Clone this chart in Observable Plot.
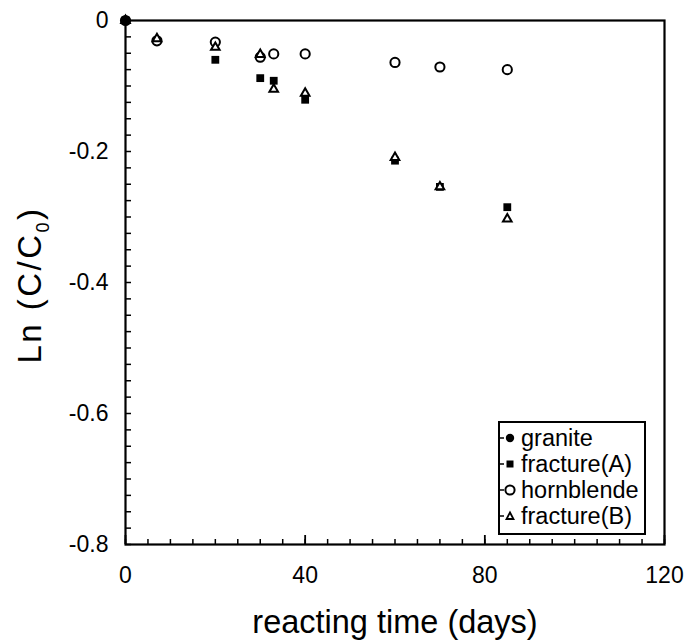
<!DOCTYPE html>
<html><head><meta charset="utf-8">
<script src="https://cdn.jsdelivr.net/npm/d3@7"></script>
<script src="https://cdn.jsdelivr.net/npm/@observablehq/plot@0.6"></script>
<style>
body{margin:0;background:#fff;}
#wrap{position:relative;width:688px;height:642px;font-family:"Liberation Sans",Arial,sans-serif;}
#legend{position:absolute;left:498px;top:421px;width:144px;height:110px;border:2px solid #000;background:#fff;}
.row{position:absolute;left:0;height:26px;display:flex;align-items:center;font-size:23.5px;color:#000;white-space:nowrap;}
.row svg{flex:none;}
</style></head><body><div id="wrap"></div>
<script>
// Data
const series = ["granite", "fracture(A)", "hornblende", "fracture(B)"];
const graniteDays = [0];
const graniteLn = [0];
const fracADays = [0, 20, 30, 33, 40, 60, 70, 85];
const fracALn = [0, -0.060, -0.088, -0.092, -0.121, -0.214, -0.254, -0.285];
const hornDays = [0, 7, 20, 30, 33, 40, 60, 70, 85];
const hornLn = [0, -0.031, -0.033, -0.056, -0.051, -0.051, -0.064, -0.071, -0.075];
const fracBDays = [0, 7, 20, 30, 33, 40, 60, 70, 85];
const fracBLn = [0, -0.028, -0.041, -0.052, -0.105, -0.111, -0.209, -0.254, -0.303];
const xTicks = [0, 40, 80, 120];
const yTicks = [0, -0.2, -0.4, -0.6, -0.8];
const xMinor = d3.range(0, 121, 5);
const yMinor = d3.range(0, 33).map(i => -i * 0.025);

const toRows = (xs, ys) => xs.map((d, i) => ({day: d, ln: ys[i]}));
const granite = toRows(graniteDays, graniteLn);
const fracA = toRows(fracADays, fracALn);
const horn = toRows(hornDays, hornLn);
const fracB = toRows(fracBDays, fracBLn);

const W = 688, H = 642, mL = 125, mR = 24, mT = 20, mB = 98;
const innerW = W - mL - mR, innerH = H - mT - mB;
const font = '"Liberation Sans", Arial, sans-serif';
const plot = Plot.plot({
  width: W, height: H,
  marginLeft: mL, marginRight: mR, marginTop: mT, marginBottom: mB,
  x: {domain: [0, 120]},
  y: {domain: [-0.8, 0]},
  style: {fontFamily: font, background: "white", color: "black"},
  marks: [
    Plot.tickX(xMinor, {x: d => d, insetTop: innerH - 5, stroke: "black", strokeWidth: 1.5}),
    Plot.tickX(xTicks, {x: d => d, insetTop: innerH - 9, stroke: "black", strokeWidth: 1.8}),
    Plot.tickY(yMinor, {y: d => d, insetRight: innerW - 6, stroke: "black", strokeWidth: 1.5}),
    Plot.axisX(xTicks, {tickSize: 0, tickPadding: 22, fontSize: 23, label: null, tickFormat: d => String(d)}),
    Plot.axisY(yTicks, {tickSize: 0, tickPadding: 17, fontSize: 23, label: null, tickFormat: d => d === 0 ? "0" : d.toFixed(1)}),
    Plot.dot(horn, {x: "day", y: "ln", symbol: "circle", r: 4.6, stroke: "black", strokeWidth: 2, fill: "none"}),
    Plot.dot(fracA, {x: "day", y: "ln", symbol: "square", r: 4.4, fill: "black", stroke: "none"}),
    Plot.dot(fracB, {x: "day", y: "ln", symbol: "triangle", r: 3.2, stroke: "black", strokeWidth: 2, fill: "white"}),
    Plot.dot(granite, {x: "day", y: "ln", symbol: "circle", r: 4.2, fill: "black", stroke: "none"}),
    Plot.frame({stroke: "black", strokeWidth: 2.2})
  ]
});

const wrap = document.getElementById("wrap");
wrap.appendChild(plot);

// Axis titles
const svg = d3.select(plot);
svg.append("text")
  .attr("x", 395).attr("y", 633)
  .attr("text-anchor", "middle")
  .style("font-size", "32.5px").style("font-family", font)
  .text("reacting time (days)");
const yt = svg.append("text")
  .attr("transform", "translate(41,285) rotate(-90)")
  .attr("text-anchor", "middle")
  .style("font-size", "33px").style("letter-spacing", "2.5px").style("font-family", font);
yt.append("tspan").text("Ln (C/C");
yt.append("tspan").attr("dy", 8).style("font-size", "18px").text("0");
yt.append("tspan").attr("dy", -8).text(")");

// Legend
const leg = document.createElement("div");
leg.id = "legend";
const shapes = {
  "granite": '<circle cx="10" cy="8" r="4.2" fill="black"/>',
  "fracture(A)": '<rect x="6.5" y="4.5" width="7" height="7" fill="black"/>',
  "hornblende": '<circle cx="10" cy="8" r="4.6" fill="none" stroke="black" stroke-width="2"/>',
  "fracture(B)": '<path d="M10,4.5 L13.5,11 L6.5,11 Z" fill="none" stroke="black" stroke-width="1.8"/>'
};
series.forEach((s, i) => {
  const r = document.createElement("div");
  r.className = "row";
  r.style.top = (2 + i * 26) + "px";
  r.innerHTML = '<svg width="20" height="16" style="margin-right:1px"><line x1="0" y1="8" x2="4" y2="8" stroke="black" stroke-width="1.5"/>' + shapes[s] + '</svg><span>' + s + '</span>';
  leg.appendChild(r);
});
wrap.appendChild(leg);
</script>
</body></html>
